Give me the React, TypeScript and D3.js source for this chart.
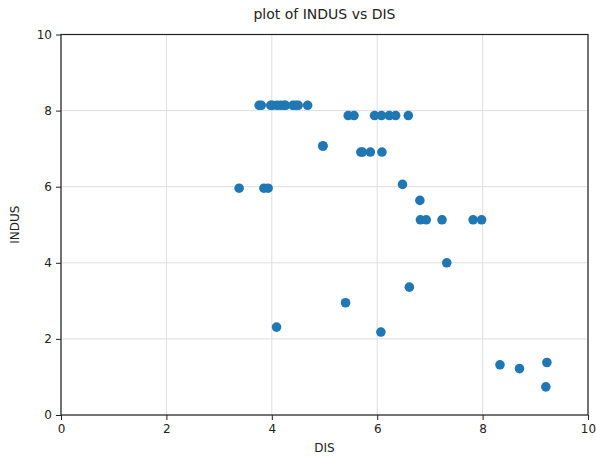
import React, { useEffect, useRef } from 'react';
import * as d3 from 'd3';

// DIS / INDUS pairs
const dis = [
  4.97, 4.97,
  3.76, 3.80, 3.98, 4.01, 4.10, 4.17, 4.24, 4.26, 4.40, 4.45, 4.50, 4.68,
  5.45, 5.56, 5.95, 6.08, 6.23, 6.35, 6.59,
  5.69, 5.72, 5.87, 6.09,
  3.38, 3.85, 3.93,
  6.48, 6.81,
  6.82, 6.93, 7.23, 7.82, 7.98,
  7.32, 6.61, 5.40, 4.09, 6.07,
  8.33, 8.70, 9.22, 9.20,
];
const indus = [
  7.07, 7.07,
  8.14, 8.14, 8.14, 8.14, 8.14, 8.14, 8.14, 8.14, 8.14, 8.14, 8.14, 8.14,
  7.87, 7.87, 7.87, 7.87, 7.87, 7.87, 7.87,
  6.91, 6.91, 6.91, 6.91,
  5.96, 5.96, 5.96,
  6.06, 5.64,
  5.13, 5.13, 5.13, 5.13, 5.13,
  4.0, 3.36, 2.95, 2.31, 2.18,
  1.32, 1.22, 1.38, 0.74,
];
const xTicks = [0, 2, 4, 6, 8, 10];
const yTicks = [0, 2, 4, 6, 8, 10];

const W = 596;
const H = 457;
const margin = { top: 34.5, right: 8, bottom: 42, left: 61 };

const ScatterChart = () => {
  const ref = useRef<SVGSVGElement>(null);

  useEffect(() => {
    const svg = d3.select(ref.current);
    svg.selectAll('*').remove();

    const x = d3.scaleLinear().domain([0, 10]).range([margin.left, W - margin.right]);
    const y = d3.scaleLinear().domain([0, 10]).range([H - margin.bottom, margin.top]);
    const font = 'DejaVu Sans, sans-serif';

    // grid
    svg.append('g')
      .selectAll('line.vx')
      .data(xTicks)
      .enter()
      .append('line')
      .attr('x1', (d) => x(d)).attr('x2', (d) => x(d))
      .attr('y1', y(0)).attr('y2', y(10))
      .attr('stroke', '#dedede').attr('stroke-width', 1);
    svg.append('g')
      .selectAll('line.hy')
      .data(yTicks)
      .enter()
      .append('line')
      .attr('x1', x(0)).attr('x2', x(10))
      .attr('y1', (d) => y(d)).attr('y2', (d) => y(d))
      .attr('stroke', '#dedede').attr('stroke-width', 1);

    // points
    svg.append('g')
      .selectAll('circle')
      .data(dis.map((d, i) => [d, indus[i]]))
      .enter()
      .append('circle')
      .attr('cx', (d) => x(d[0]))
      .attr('cy', (d) => y(d[1]))
      .attr('r', 4.8)
      .attr('fill', '#1f77b4');

    // axes
    const xAxis = svg.append('g')
      .attr('transform', `translate(0,${y(0)})`)
      .call(d3.axisBottom(x).tickValues(xTicks).tickFormat(d3.format('d')).tickSize(5).tickPadding(4));
    const yAxis = svg.append('g')
      .attr('transform', `translate(${x(0)},0)`)
      .call(d3.axisLeft(y).tickValues(yTicks).tickFormat(d3.format('d')).tickSize(5).tickPadding(4));
    [xAxis, yAxis].forEach((g) => {
      g.select('.domain').remove();
      g.selectAll('text').attr('font-family', font).attr('font-size', 12).attr('fill', '#222');
      g.selectAll('line').attr('stroke', '#222');
    });

    // frame
    svg.append('rect')
      .attr('x', x(0)).attr('y', y(10))
      .attr('width', x(10) - x(0)).attr('height', y(0) - y(10))
      .attr('fill', 'none').attr('stroke', '#222').attr('stroke-width', 1.2);

    // labels
    svg.append('text')
      .attr('x', (x(0) + x(10)) / 2).attr('y', 19)
      .attr('text-anchor', 'middle')
      .attr('font-family', font).attr('font-size', 14).attr('fill', '#222')
      .text('plot of INDUS vs DIS');
    svg.append('text')
      .attr('x', (x(0) + x(10)) / 2).attr('y', 452)
      .attr('text-anchor', 'middle')
      .attr('font-family', font).attr('font-size', 12).attr('fill', '#222')
      .text('DIS');
    svg.append('text')
      .attr('transform', `translate(19,${(y(0) + y(10)) / 2}) rotate(-90)`)
      .attr('text-anchor', 'middle')
      .attr('font-family', font).attr('font-size', 12).attr('fill', '#222')
      .text('INDUS');
  }, []);

  return <svg ref={ref} width={W} height={H} style={{ display: 'block' }} />;
};

export default function App() {
  return (
    <div style={{ position: 'absolute', left: 0, top: 0, background: '#fff' }}>
      <ScatterChart />
    </div>
  );
}
